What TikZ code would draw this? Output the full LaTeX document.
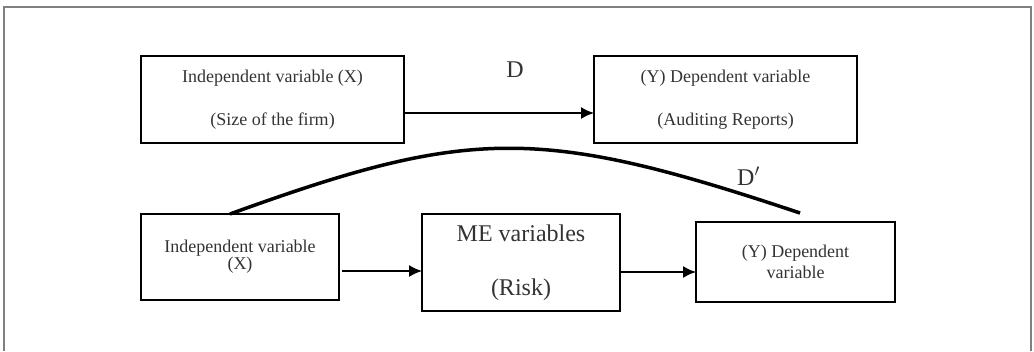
\documentclass[tikz,border=0pt]{standalone}
\usepackage{fontspec}
\setmainfont{Liberation Serif}
\usepackage{tikz}
\usetikzlibrary{arrows.meta}
\usetikzlibrary{positioning}

\begin{document}
\begin{tikzpicture}[x=1pt,y=1pt]
\tikzstyle{box}=[rectangle, draw=black, line width=1.5pt, align=center, inner sep=0pt, outer sep=0pt, text=black!80]
\tikzstyle{small}=[font=\fontsize{18}{21.6}\selectfont]
\tikzstyle{connect}=[-{Latex[length=13pt,width=12pt]}, line width=1.5pt]
\tikzstyle{link}=[line width=3.5pt]
\tikzstyle{tag}=[inner sep=0pt, text=black!80, font=\fontsize{24}{28}\selectfont]
  \useasboundingbox (0,0) rectangle (1034,-351);
  \draw[black!50, line width=2pt] (4,-351) -- (4,-7) -- (1031,-7) -- (1031,-351);
  \node[box, small, minimum width=263pt, minimum height=87pt] (indep) at (272.5,-99.5) {Independent variable (X)\\[22pt](Size of the firm)};
  \node[box, small, minimum width=263pt, minimum height=87pt] (dep) [right=190pt of indep] {(Y) Dependent variable\\[22pt](Auditing Reports)};
  \node[box, minimum width=198pt, minimum height=86pt, font=\fontsize{18}{17}\selectfont] (indepx) [below=71pt of indep.south west, anchor=north west] {Independent variable\\(X)};
  \node[box, minimum width=198pt, minimum height=97pt, font=\fontsize{24}{29}\selectfont] (me) [right=83pt of indepx.north east, anchor=north west] {ME variables\\[25pt](Risk)};
  \node[box, minimum width=199pt, minimum height=80pt, font=\fontsize{18}{21}\selectfont] (depy) [right=76pt of me.north east, anchor=north west, yshift=-8pt] {(Y) Dependent\\variable};
  \node[tag] (d) at (515,-70) {D};
  \node[tag, anchor=west] (dprime) at (737,-176) {D$^{\prime}$};
  \coordinate (a1) at ([yshift=-13.5pt]indep.east);
  \coordinate (a2) at ([xshift=3pt,yshift=-14pt]indepx.east);
  \coordinate (a3) at ([yshift=-9.5pt]me.east);
  \path (a1) edge [connect] (a1 -| dep.west)
        (a2) edge [connect] (a2 -| me.west)
        (a3) edge [connect] (a3 -| depy.west);
  \draw[link] ([xshift=-10pt]indepx.north) .. controls +(240,87) and +(-260,87) .. ([xshift=4.5pt,yshift=9pt]depy.north);
\end{tikzpicture}
\end{document}
